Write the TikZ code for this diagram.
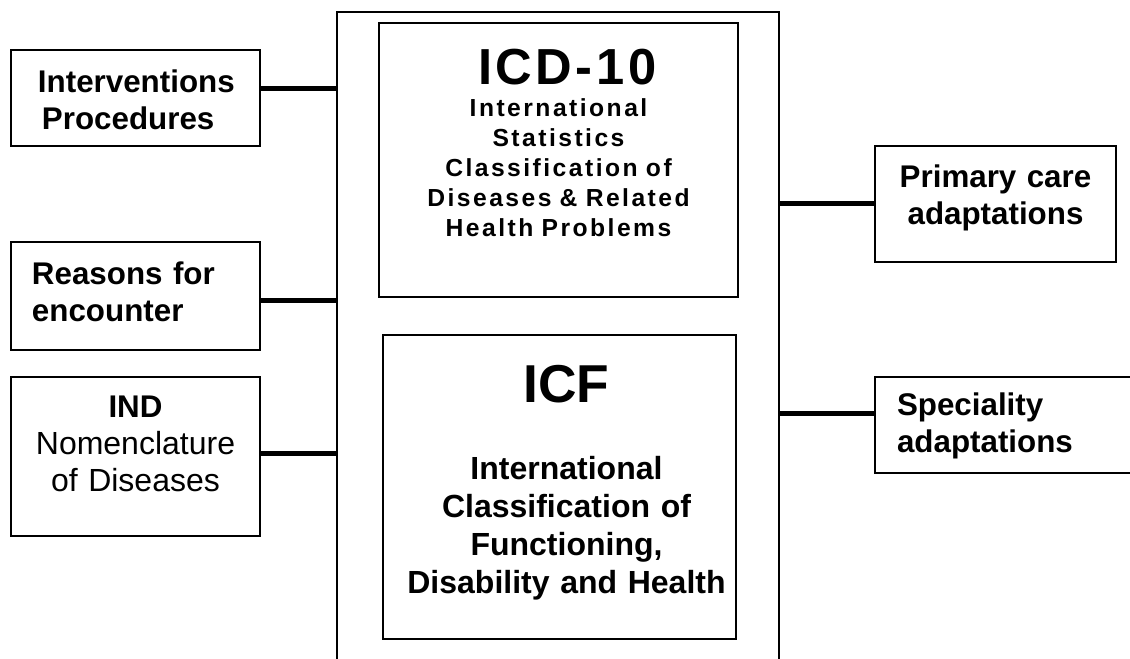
\documentclass[tikz,border=0pt]{standalone}
\usepackage{fontspec}
\setmainfont{Liberation Sans}
\newfontfamily\icdfamily[LetterSpace=10]{Liberation Sans}

\begin{document}
\begin{tikzpicture}[x=0.75pt, y=-0.75pt,
    box/.style={draw, line width=1.1pt, inner sep=0pt, outer sep=0pt, align=center,
      font=\fontsize{23.5}{27.75}\selectfont\bfseries},
    padleft/.style={align=left, execute at begin node={\leftskip=#1}},
    padcenter/.style={align=left, execute at begin node={\leftskip=#1 plus 1fil\rightskip=0pt plus 1fil\parfillskip=0pt}},
    link/.style={line width=3.75pt},
    frame/.style={line width=1pt}]
  \useasboundingbox (0,0) rectangle (1130,659);
  % open frame round the two classifications
  \coordinate (fSW) at (337,665); \coordinate (fNW) at (337,12);
  \coordinate (fNE) at (779,12);  \coordinate (fSE) at (779,665);
  \draw[frame] (fSW) -- (fNW) -- (fNE) -- (fSE);

  \node[box, anchor=north west, text width=269.25pt, text height=46.5pt, text depth=159pt,
        font=\icdfamily\fontsize{18.5}{22.5}\selectfont\bfseries] (icd) at (379,23)
    {{\fontsize{38}{40}\selectfont\addfontfeature{LetterSpace=7}\hspace*{13pt}ICD-10\par}\vspace{1.5pt}%
     International\\Statistics\\Classification of\\Diseases \& Related\\Health Problems};
  \node[box, padcenter=10.5pt, anchor=north west, text width=264.75pt, text height=50.25pt, text depth=177.75pt,
        font=\fontsize{24}{28.5}\selectfont\bfseries] (icf) at (383,335)
    {{\fontsize{40}{42}\selectfont ICF\par}\vspace{29.25pt}%
     International\\Classification of\\Functioning,\\Disability and Health};

  % left side
  \node[box, padleft=20.25pt, anchor=north west, text width=186.75pt, text height=32.25pt, text depth=39.75pt]
    (interv) at (11,50) {Interventions\\\hspace*{3pt}Procedures};
  \node[box, padleft=15.75pt, anchor=north west, text width=186.75pt, text height=31.5pt, text depth=49.5pt]
    (reasons) at (11,242) {Reasons for\\encounter};
  \node[box, anchor=north west, text width=186.75pt, text height=30pt, text depth=89.25pt]
    (ind) at (11,377) {IND\\{\mdseries\fontsize{24}{27.75}\selectfont Nomenclature\\of Diseases}};

  % right side
  \node[box, anchor=north west, text width=180.75pt, text height=31.5pt, text depth=55.5pt]
    (primary) at (875,146) {Primary care\\adaptations};
  \node[box, padleft=16.5pt, anchor=north west, text width=205.5pt, text height=28.5pt, text depth=43.5pt]
    (special) at (875,377) {Speciality\\adaptations};

  \foreach \n/\s in {interv/6.75pt, reasons/-3pt, ind/2.6pt}
    \draw[link] ([yshift=\s]\n.east) -- ([yshift=\s]\n.east -| fNW);
  \foreach \n/\s in {primary/0pt, special/9pt}
    \draw[link] ([yshift=\s]\n.west) -- ([yshift=\s]\n.west -| fNE);
\end{tikzpicture}
\end{document}
